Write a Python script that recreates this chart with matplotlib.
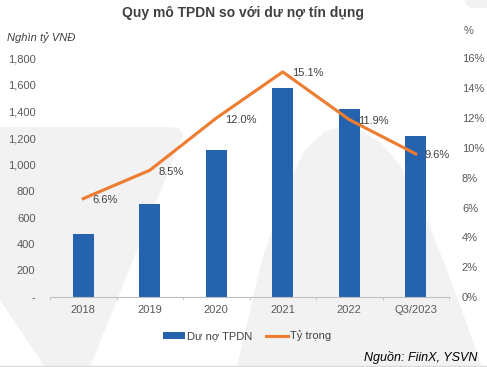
import numpy as np
import matplotlib.pyplot as plt
from matplotlib.patches import Polygon, FancyBboxPatch
from matplotlib.lines import Line2D
from matplotlib.ticker import FuncFormatter

plt.rcParams['font.family'] = ['Liberation Sans', 'DejaVu Sans']

# data
categories = ['2018', '2019', '2020', '2021', '2022', 'Q3/2023']
du_no = [478, 699, 1109, 1580, 1420, 1215]
ty_trong = [6.6, 8.5, 12.0, 15.1, 11.9, 9.6]

bar_color = '#2563AE'
line_color = '#ED7D31'
txt = '#595959'

W, H = 487, 367
fig = plt.figure(figsize=(W / 100, H / 100), dpi=100)
fig.patch.set_facecolor('white')

# light watermark shapes in the background (pixel coords, y from top)
bg = fig.add_axes([0, 0, 1, 1], zorder=-5)
bg.set_xlim(0, W)
bg.set_ylim(H, 0)
bg.axis('off')
wm = '#f2f2f2'
bg.add_patch(Polygon([[0, 127], [172, 127], [180, 129], [183, 135], [90, 367], [45, 367], [0, 300]],
                     closed=True, facecolor=wm, edgecolor='none'))
bg.add_patch(Polygon([[237, 367], [262, 260], [285, 190], [305, 150], [325, 131], [342, 127],
                      [360, 130], [380, 142], [400, 165], [425, 215], [445, 265], [460, 305],
                      [482, 367]], closed=True, facecolor=wm, edgecolor='none'))
bg.add_patch(FancyBboxPatch((465, -20), 40, 28, boxstyle='round,pad=0,rounding_size=8',
                            facecolor=wm, edgecolor='none'))
bg.add_line(Line2D([0, W], [365.5, 365.5], color='#d9d9d9', lw=1))

ax = fig.add_axes([50 / W, 1 - 297 / H, 399 / W, 238.5 / H])
ax.patch.set_alpha(0)
index = np.arange(len(categories))

ax.bar(index, du_no, 0.32, color=bar_color, label='Dư nợ TPDN', zorder=2)
ax.set_ylim(0, 1800)
ax.set_xlim(-0.5, len(categories) - 0.5)
ax.set_yticks(np.arange(0, 1801, 200))
ax.yaxis.set_major_formatter(FuncFormatter(lambda v, p: '-' if v == 0 else f'{int(v):,}'))
ax.set_xticks(index)
ax.set_xticklabels(categories)
ax.set_xticks(np.arange(-0.5, len(categories), 1), minor=True)
ax.tick_params(axis='x', which='major', length=0, pad=5.5, labelsize=8, colors=txt)
ax.tick_params(axis='x', which='minor', length=2.5, color='#bfbfbf', direction='out')
ax.tick_params(axis='y', length=0, pad=10.5, labelsize=8, colors=txt)
for s in ['top', 'right', 'left']:
    ax.spines[s].set_visible(False)
ax.spines['bottom'].set_color('#bfbfbf')

ax2 = ax.twinx()
ax2.patch.set_alpha(0)
ax2.plot(index, ty_trong, color=line_color, lw=2.25, label='Tỷ trọng', zorder=3)
ax2.set_ylim(0, 16)
ax2.set_yticks(np.arange(0, 17, 2))
ax2.yaxis.set_major_formatter(FuncFormatter(lambda v, p: f'{int(v)}%'))
ax2.tick_params(axis='y', length=0, pad=9.3, labelsize=8, colors=txt)
for s in ['top', 'right', 'left', 'bottom']:
    ax2.spines[s].set_visible(False)

for i, v in zip(index, ty_trong):
    ax2.annotate(f'{v:.1f}%', (i, v), xytext=(6.5, -1), textcoords='offset points',
                 ha='left', va='center', fontsize=8, color='#404040')

fig.text(0.5, 1 - 13 / H, 'Quy mô TPDN so với dư nợ tín dụng', ha='center', va='center',
         fontsize=10, fontweight='bold', color='#404040')
fig.text(7 / W, 1 - 38 / H, 'Nghìn tỷ VNĐ', ha='left', va='center', fontsize=8,
         style='italic', color='#404040')
fig.text(469 / W, 1 - 31 / H, '%', ha='center', va='center', fontsize=8, color=txt)
fig.text(477 / W, 1 - 357 / H, 'Nguồn: FiinX, YSVN', ha='right', va='center', fontsize=9,
         style='italic', color='black')

h1, l1 = ax.get_legend_handles_labels()
h2, l2 = ax2.get_legend_handles_labels()
fig.legend(h1 + h2, l1 + l2, loc='center', bbox_to_anchor=(247 / W, 1 - 336 / H), ncol=2,
           frameon=False, fontsize=8, handlelength=2.0, handleheight=0.5,
           handletextpad=0.15, columnspacing=1.2, labelcolor='#404040')

fig.savefig('out.png', dpi=100)
